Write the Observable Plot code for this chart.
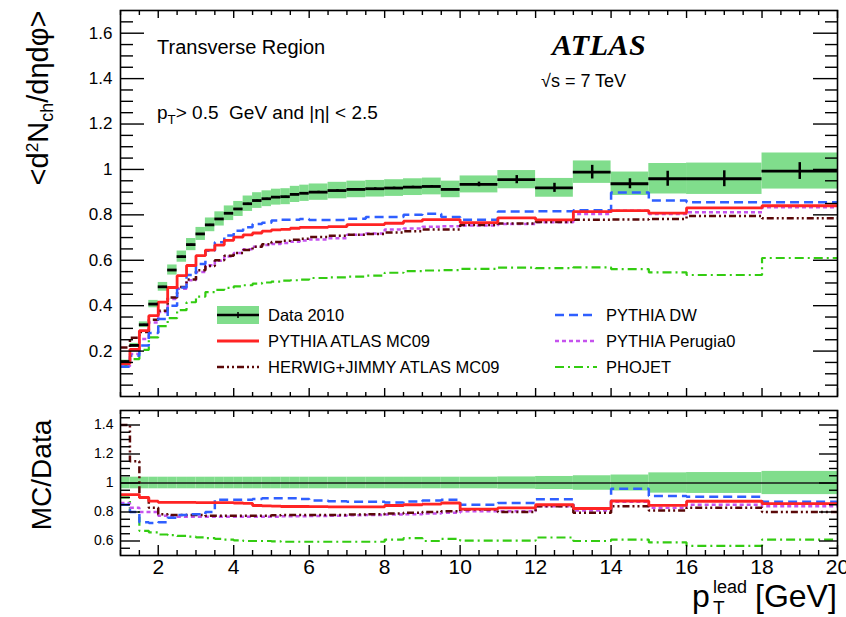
<!DOCTYPE html>
<html><head><meta charset="utf-8">
<script src="https://cdn.jsdelivr.net/npm/d3@7"></script>
<script src="https://cdn.jsdelivr.net/npm/@observablehq/plot@0.6"></script>
<style>
body{margin:0;background:#fff;font-family:"Liberation Sans",Arial,sans-serif;}
#wrap{position:relative;width:846px;height:617px;overflow:hidden;background:#fff;}
#wrap svg{display:block;}
.ov{position:absolute;white-space:nowrap;color:#000;line-height:1;font-family:"Liberation Sans",Arial,sans-serif;}
.rot{transform:translate(-50%,-50%) rotate(-90deg);}
.leg{position:absolute;display:flex;align-items:center;height:20px;font-size:16.5px;white-space:nowrap;}
.leg svg{margin-right:9px;}
</style></head><body><div id="wrap"></div>
<script>
// pT(lead) bin edges [GeV]
const binEdges = [1,1.25,1.5,1.75,2,2.25,2.5,2.75,3,3.25,3.5,3.75,4,4.25,4.5,4.75,5,5.25,5.5,5.75,6,6.5,7,7.5,8,8.5,9,9.5,10,11,12,13,14,15,16,18,20];

// Data 2010
const data2010 = [0.154,0.225,0.316,0.407,0.483,0.557,0.616,0.669,0.716,0.756,
  0.782,0.807,0.826,0.849,0.863,0.871,0.878,0.880,0.890,0.895,
  0.900,0.907,0.912,0.915,0.918,0.922,0.925,0.912,0.934,0.955,
  0.919,0.988,0.937,0.959,0.959,0.993];
const statErr = [0.002,0.002,0.002,0.002,0.002,0.002,0.002,0.002,0.002,0.002,
  0.002,0.002,0.002,0.002,0.002,0.002,0.002,0.002,0.002,0.002,
  0.004,0.004,0.004,0.004,0.004,0.004,0.004,0.004,0.010,0.018,
  0.020,0.030,0.022,0.033,0.035,0.037];
const sysRel = [0.04,0.04,0.04,0.04,0.04,0.04,0.04,0.04,0.04,0.04,
  0.04,0.04,0.04,0.04,0.04,0.04,0.04,0.04,0.04,0.04,
  0.04,0.04,0.04,0.04,0.04,0.04,0.04,0.04,0.04,0.042,
  0.045,0.05,0.055,0.07,0.072,0.08];

// MC predictions (main panel)
const pythiaMC09 = [0.145,0.207,0.290,0.356,0.416,0.480,0.532,0.577,0.620,0.645,
  0.667,0.688,0.702,0.712,0.720,0.728,0.734,0.736,0.741,0.745,
  0.745,0.748,0.757,0.757,0.763,0.772,0.779,0.779,0.766,0.787,
  0.778,0.814,0.819,0.808,0.831,0.840];
const pythiaDW = [0.131,0.180,0.225,0.280,0.341,0.400,0.480,0.535,0.584,0.642,
  0.679,0.709,0.730,0.745,0.760,0.765,0.775,0.778,0.778,0.782,
  0.777,0.777,0.783,0.790,0.790,0.800,0.805,0.790,0.778,0.815,
  0.816,0.820,0.898,0.863,0.855,0.855];
const herwigJimmy = [0.216,0.259,0.284,0.338,0.378,0.436,0.482,0.515,0.556,0.575,
  0.600,0.620,0.632,0.645,0.660,0.670,0.680,0.686,0.690,0.695,
  0.702,0.708,0.712,0.716,0.722,0.728,0.735,0.735,0.755,0.762,
  0.768,0.778,0.780,0.782,0.795,0.785];
const perugia0 = [0.133,0.187,0.253,0.326,0.372,0.429,0.474,0.512,0.548,0.578,
  0.598,0.617,0.632,0.648,0.660,0.667,0.672,0.676,0.682,0.687,
  0.692,0.697,0.712,0.718,0.735,0.740,0.748,0.750,0.753,0.760,
  0.767,0.804,0.818,0.804,0.812,0.834];
const phojet = [0.139,0.165,0.205,0.260,0.310,0.345,0.380,0.415,0.440,0.460,
  0.470,0.478,0.485,0.490,0.497,0.502,0.506,0.510,0.512,0.515,
  0.522,0.525,0.528,0.532,0.545,0.552,0.555,0.557,0.562,0.568,
  0.565,0.569,0.561,0.547,0.535,0.610];

// MC/Data ratios (lower panel)
const ratioMC09 = [0.920,0.920,0.900,0.875,0.866,0.866,0.866,0.866,0.865,0.865,
  0.865,0.864,0.862,0.860,0.845,0.842,0.840,0.838,0.838,0.838,
  0.837,0.836,0.836,0.835,0.845,0.850,0.855,0.862,0.820,0.829,
  0.850,0.824,0.876,0.846,0.874,0.858];
const ratioDW = [0.850,0.800,0.730,0.725,0.730,0.760,0.780,0.785,0.785,0.800,
  0.885,0.885,0.885,0.885,0.890,0.895,0.895,0.895,0.895,0.890,
  0.880,0.875,0.870,0.870,0.865,0.872,0.880,0.885,0.850,0.862,
  0.888,0.825,0.960,0.910,0.905,0.870];
const ratioHerwig = [1.400,1.150,0.900,0.830,0.785,0.780,0.780,0.780,0.780,0.775,
  0.775,0.775,0.775,0.775,0.775,0.775,0.778,0.780,0.780,0.780,
  0.780,0.780,0.782,0.785,0.790,0.795,0.800,0.805,0.817,0.800,
  0.840,0.795,0.840,0.810,0.830,0.800];
const ratioPerugia0 = [0.862,0.830,0.800,0.800,0.775,0.770,0.768,0.768,0.768,0.768,
  0.768,0.768,0.768,0.768,0.768,0.768,0.768,0.770,0.770,0.770,
  0.772,0.775,0.778,0.780,0.782,0.785,0.790,0.795,0.805,0.805,
  0.840,0.810,0.870,0.830,0.850,0.840];
const ratioPhojet = [0.900,0.800,0.670,0.660,0.645,0.640,0.635,0.630,0.625,0.620,
  0.615,0.610,0.605,0.600,0.600,0.600,0.598,0.595,0.595,0.595,
  0.595,0.595,0.595,0.595,0.610,0.620,0.600,0.615,0.602,0.602,
  0.624,0.600,0.610,0.590,0.567,0.610];

// ticks
const xMajor = [2,4,6,8,10,12,14,16,18,20];
const yMajorMain = [0.2,0.4,0.6,0.8,1,1.2,1.4,1.6];
const yMajorRatio = [0.6,0.8,1,1.2,1.4];
const xMinor = d3.range(1, 20.01, 0.5).filter(v => !xMajor.includes(v));
const yMinorMain = d3.range(1, 34).map(i => i * 0.05).filter(v => !yMajorMain.some(m => Math.abs(m - v) < 1e-6));
const yMinorRatio = d3.range(11, 30).map(i => i * 0.05).filter(v => !yMajorRatio.some(m => Math.abs(m - v) < 1e-6));

const bins = binEdges.slice(0, -1).map((lo, i) => ({lo, hi: binEdges[i + 1], c: (lo + binEdges[i + 1]) / 2,
  v: data2010[i], stat: statErr[i], rel: sysRel[i]}));
const steps = vals => vals.flatMap((v, i) => [{x: binEdges[i], y: v}, {x: binEdges[i + 1], y: v}]);

const series = [
  {name: "PHOJET", main: phojet, ratio: ratioPhojet, color: "#33cc11", dash: "9,4,2,4", w: 2.2},
  {name: "PYTHIA Perugia0", main: perugia0, ratio: ratioPerugia0, color: "#c552ee", dash: "4,3", w: 2.5},
  {name: "HERWIG+JIMMY ATLAS MC09", main: herwigJimmy, ratio: ratioHerwig, color: "#5a0808", dash: "7,3,2,3,2,3", w: 2.5},
  {name: "PYTHIA DW", main: pythiaDW, ratio: ratioDW, color: "#2f5fff", dash: "9,5", w: 2.5},
  {name: "PYTHIA ATLAS MC09", main: pythiaMC09, ratio: ratioMC09, color: "#ff2424", dash: null, w: 2.8}
];

const W = 846, ML = 120, MR = 9;
const PW = W - ML - MR;
const H1 = 402, MT1 = 10, MB1 = 6, PH1 = H1 - MT1 - MB1;
const H2 = 215, MT2 = 8, MB2 = 62, PH2 = H2 - MT2 - MB2;
const font = "'Liberation Sans', Arial, sans-serif";
const tk = {stroke: "black", strokeWidth: 1.4};

function tickMarks(yMaj, yMin, yMajL, yMinL, yMajR, yMinR, PH, topMaj, topMin, botMaj, botMin) {
  return [
    Plot.ruleY(yMaj, {...tk, insetRight: PW - yMajL}),
    Plot.ruleY(yMin, {...tk, insetRight: PW - yMinL}),
    Plot.ruleY(yMaj, {...tk, insetLeft: PW - yMajR}),
    Plot.ruleY(yMin, {...tk, insetLeft: PW - yMinR}),
    Plot.ruleX(xMajor, {...tk, insetTop: PH - botMaj}),
    Plot.ruleX(xMinor, {...tk, insetTop: PH - botMin}),
    Plot.ruleX(xMajor, {...tk, insetBottom: PH - topMaj}),
    Plot.ruleX(xMinor, {...tk, insetBottom: PH - topMin})
  ];
}

const mainPlot = Plot.plot({
  width: W, height: H1, marginTop: MT1, marginBottom: MB1, marginLeft: ML, marginRight: MR,
  x: {domain: [1, 20], axis: null},
  y: {domain: [0, 1.7]},
  style: {fontFamily: font, fontSize: "17px", background: "white", overflow: "visible"},
  marks: [
    Plot.rect(bins, {x1: "lo", x2: "hi", y1: d => d.v * (1 - d.rel), y2: d => d.v * (1 + d.rel), fill: "#80dd8c"}),
    ...series.map(s => Plot.line(steps(s.main), {x: "x", y: "y", stroke: s.color, strokeWidth: s.w,
      strokeDasharray: s.dash, strokeLinejoin: "miter", strokeLinecap: "butt"})),
    Plot.ruleX(bins, {x: "c", y1: d => d.v - d.stat, y2: d => d.v + d.stat, stroke: "black", strokeWidth: 2.5}),
    Plot.ruleY(bins, {y: "v", x1: "lo", x2: "hi", stroke: "black", strokeWidth: 2.8}),
    ...tickMarks(yMajorMain, yMinorMain, 24, 13, 24, 12, PH1, 8, 5, 8, 4),
    Plot.axisY({ticks: yMajorMain, tickSize: 0, tickPadding: 8, tickFormat: d => `${d}`, label: null, fontSize: 17}),
    Plot.frame({stroke: "black", strokeWidth: 1.6})
  ]
});

const ratioPlot = Plot.plot({
  width: W, height: H2, marginTop: MT2, marginBottom: MB2, marginLeft: ML, marginRight: MR,
  x: {domain: [1, 20]},
  y: {domain: [0.5, 1.5]},
  style: {fontFamily: font, fontSize: "14px", background: "white", overflow: "visible"},
  marks: [
    Plot.rect(bins, {x1: "lo", x2: "hi", y1: d => 1 - d.rel, y2: d => 1 + d.rel, fill: "#80dd8c"}),
    Plot.ruleY([1], {stroke: "#1a1a1a", strokeWidth: 1.4}),
    ...series.map(s => Plot.line(steps(s.ratio), {x: "x", y: "y", stroke: s.color, strokeWidth: s.w,
      strokeDasharray: s.dash, strokeLinejoin: "miter", strokeLinecap: "butt", clip: true})),
    ...tickMarks(yMajorRatio, yMinorRatio, 20, 10, 18, 8, PH2, 7, 4, 10, 5),
    Plot.axisY({ticks: yMajorRatio, tickSize: 0, tickPadding: 7, tickFormat: d => `${d}`, label: null, fontSize: 14}),
    Plot.axisX({ticks: xMajor, tickSize: 0, tickPadding: 4, tickFormat: d => `${d}`, label: null, fontSize: 21}),
    Plot.frame({stroke: "black", strokeWidth: 1.6})
  ]
});

const wrap = document.getElementById("wrap");
wrap.appendChild(mainPlot);
wrap.appendChild(ratioPlot);

function addDiv(html, style, cls = "ov") {
  const d = document.createElement("div");
  d.className = cls;
  d.innerHTML = html;
  Object.assign(d.style, style);
  wrap.appendChild(d);
  return d;
}

// annotations
addDiv("Transverse Region", {left: "157px", top: "37px", fontSize: "20px"});
addDiv('p<sub style="font-size:0.7em;vertical-align:-0.35em">T</sub>&gt; 0.5&nbsp; GeV and |η| &lt; 2.5', {left: "157px", top: "103px", fontSize: "19px"});
addDiv("ATLAS", {left: "552px", top: "30px", fontSize: "30px", fontFamily: "'Liberation Serif','Times New Roman',serif", fontWeight: "bold", fontStyle: "italic", letterSpacing: "0.5px"});
addDiv("√s = 7 TeV", {left: "541px", top: "72px", fontSize: "18px"});

// axis titles
addDiv('&lt;d<sup style="font-size:0.6em;vertical-align:0.55em">2</sup>N<sub style="font-size:0.62em;vertical-align:-0.3em">ch</sub>/dηdφ&gt;',
  {left: "40px", top: "98px", fontSize: "29px"}, "ov rot");
addDiv("MC/Data", {left: "42px", top: "475px", fontSize: "28px"}, "ov rot");
// x-axis title pieces: p, sub T, sup lead, [GeV]
addDiv("p", {left: "692px", top: "580px", fontSize: "32px"});
addDiv("lead", {left: "713px", top: "578px", fontSize: "18px"});
addDiv("T", {left: "713px", top: "598px", fontSize: "19px"});
addDiv("[GeV]", {left: "755px", top: "580px", fontSize: "32px"});

// legend
function swatch(s) {
  const dash = s.dash ? `stroke-dasharray="${s.dash}"` : "";
  return `<svg width="42" height="18"><line x1="0" y1="9" x2="42" y2="9" stroke="${s.color}" stroke-width="${s.w}" ${dash}/></svg>`;
}
const dataSwatch = `<svg width="42" height="18"><rect x="0" y="0" width="42" height="18" fill="#80dd8c"/><line x1="0" y1="9" x2="42" y2="9" stroke="black" stroke-width="2.5"/><line x1="21" y1="6" x2="21" y2="12" stroke="black" stroke-width="1.5"/></svg>`;
const byName = Object.fromEntries(series.map(s => [s.name, s]));
const legendRows = [
  {html: dataSwatch + "Data 2010", x: 217, y: 315},
  {html: swatch(byName["PYTHIA ATLAS MC09"]) + "PYTHIA ATLAS MC09", x: 217, y: 341},
  {html: swatch(byName["HERWIG+JIMMY ATLAS MC09"]) + "HERWIG+JIMMY ATLAS MC09", x: 217, y: 367},
  {html: swatch(byName["PYTHIA DW"]) + "PYTHIA DW", x: 555, y: 315},
  {html: swatch(byName["PYTHIA Perugia0"]) + "PYTHIA Perugia0", x: 555, y: 341},
  {html: swatch(byName["PHOJET"]) + "PHOJET", x: 555, y: 367}
];
for (const r of legendRows) addDiv(r.html, {left: r.x + "px", top: (r.y - 10) + "px"}, "leg");
</script>
</body></html>
